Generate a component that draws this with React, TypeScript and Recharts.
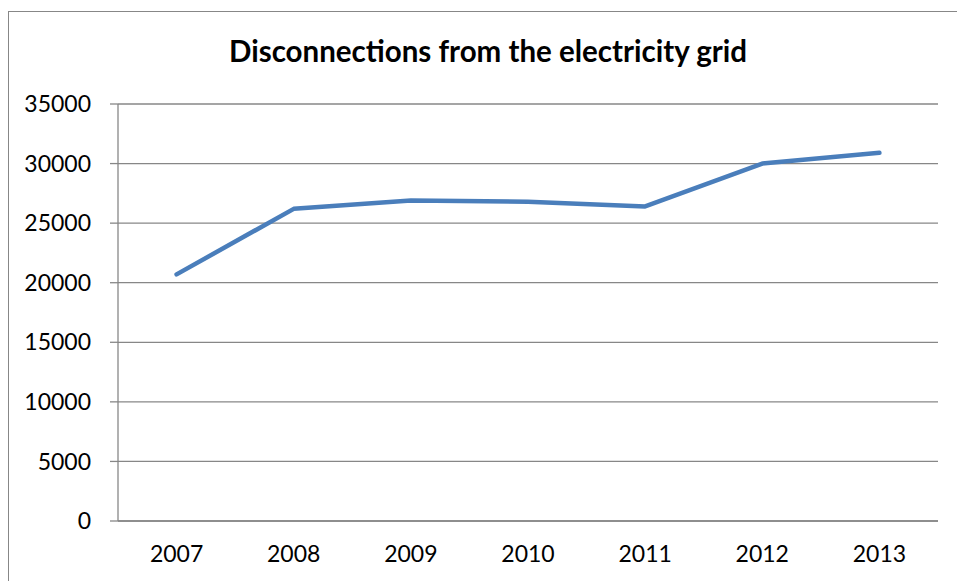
import { LineChart, XAxis, YAxis, CartesianGrid, Line } from "recharts";

const years = ["2007", "2008", "2009", "2010", "2011", "2012", "2013"];
const disconnections = [20700, 26200, 26900, 26800, 26400, 30000, 30900];
const yTicks = [0, 5000, 10000, 15000, 20000, 25000, 30000, 35000];

const data = years.map((year, i) => ({ i, year, value: disconnections[i] }));

// tick marks sit between the years, labels sit on them
const labelTicks = years.map((_, i) => i);
const edgeTicks = [...years.map((_, i) => i - 0.5), years.length - 0.5];

const font = "Lato, 'Open Sans', sans-serif";
const gray = "#878787";

const App = () => {
  return (
    <div
      style={{
        position: "fixed",
        left: 0,
        top: 0,
        width: 957,
        height: 581,
        overflow: "hidden",
        background: "#fff",
        fontFamily: font,
      }}
    >
      <div
        style={{
          position: "absolute",
          left: 8,
          top: 11,
          width: 1000,
          height: 700,
          borderLeft: `1px solid ${gray}`,
          borderTop: `1px solid ${gray}`,
        }}
      />
      <div
        style={{
          position: "absolute",
          left: 188,
          width: 600,
          top: 33,
          textAlign: "center",
          fontWeight: 700,
          fontSize: 29.5,
          color: "#000",
        }}
      >
        Disconnections from the electricity grid
      </div>
      <div style={{ position: "absolute", left: 0, top: 0 }}>
        <LineChart
          width={957}
          height={581}
          data={data}
          margin={{ top: 104, right: 19, bottom: 0, left: 0 }}
        >
          <CartesianGrid vertical={false} stroke={gray} strokeWidth={1.3} />
          <XAxis
            xAxisId="edges"
            dataKey="i"
            type="number"
            domain={[-0.5, years.length - 0.5]}
            ticks={edgeTicks}
            tick={false}
            tickSize={8}
            tickLine={{ stroke: gray, strokeWidth: 1.3 }}
            axisLine={false}
            height={0}
            allowDataOverflow
          />
          <XAxis
            dataKey="i"
            type="number"
            domain={[-0.5, years.length - 0.5]}
            ticks={labelTicks}
            tickFormatter={(i: number) => years[i]}
            tickLine={false}
            tickSize={0}
            tickMargin={25}
            axisLine={{ stroke: gray, strokeWidth: 1.3 }}
            tick={{ fill: "#000", fontSize: 23, fontFamily: font }}
            height={60}
            interval={0}
            allowDataOverflow
          />
          <YAxis
            domain={[0, 35000]}
            ticks={yTicks}
            width={118}
            tickSize={8}
            tickMargin={19}
            interval={0}
            tickLine={{ stroke: gray, strokeWidth: 1.3 }}
            axisLine={{ stroke: gray, strokeWidth: 1.3 }}
            tick={{ fill: "#000", fontSize: 23, fontFamily: font }}
          />
          <Line
            type="linear"
            dataKey="value"
            stroke="#4A7EBB"
            strokeWidth={4.5}
            strokeLinecap="round"
            strokeLinejoin="round"
            dot={false}
            isAnimationActive={false}
          />
        </LineChart>
      </div>
    </div>
  );
};

export default App;
